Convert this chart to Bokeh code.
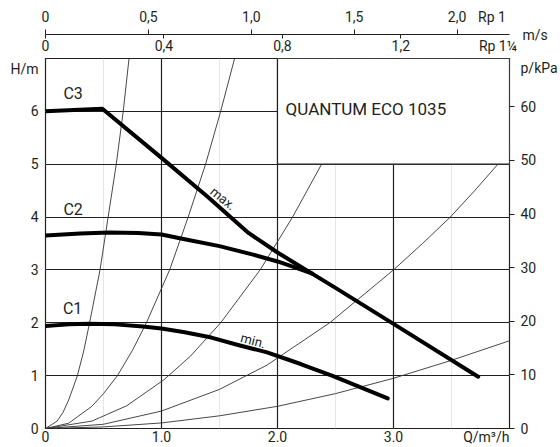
from bokeh.plotting import figure
from bokeh.models import LinearAxis, Range1d, FixedTicker, Label, Grid, Title
from bokeh.embed import file_html
from bokeh.resources import INLINE

# ---------------- data ----------------
flow_ticks = [0, 1, 2, 3]
flow_tick_labels = ["0", "1.0", "2.0", "3.0"]
flow_unit_pos = 3.8
flow_unit = "Q/m³/h"
head_ticks = [0, 1, 2, 3, 4, 5, 6]
head_unit_pos = 6.8
head_unit = "H/m"
kpa_ticks = [0, 10, 20, 30, 40, 50, 60]
kpa_unit_pos = 67.3
kpa_unit = "p/kPa"
rp1_ticks = [0, 0.5, 1.0, 1.5, 2.0]
rp1_tick_labels = ["0", "0,5", "1,0", "1,5", "2,0"]
rp1_name_pos = 2.17
rp1_name = "Rp 1"
rp114_ticks = [0, 0.4, 0.8, 1.2]
rp114_tick_labels = ["0", "0,4", "0,8", "1,2"]
rp114_name_pos = 1.528
rp114_name = "Rp 1¼"
speed_unit = "m/s"

q_span = 4.0        # m3/h
h_span = 7.0        # m
kpa_span = 69.0     # kPa at 7 m
rp1_span = 2.255    # m/s at 4 m3/h in Rp 1
rp114_span = 1.567  # m/s at 4 m3/h in Rp 1 1/4

# pump curves (thick)
c3_q = [0, 0.49, 1.0, 1.4, 1.75, 2.0, 2.5, 3.0, 3.73]
c3_h = [6.0, 6.05, 5.12, 4.38, 3.70, 3.33, 2.66, 1.98, 0.98]
c2_q = [0, 0.3, 0.55, 0.8, 1.0, 1.2, 1.5, 1.79, 2.0, 2.15, 2.3]
c2_h = [3.65, 3.69, 3.71, 3.70, 3.67, 3.58, 3.45, 3.29, 3.16, 3.05, 2.93]
c1_q = [0, 0.2, 0.38, 0.6, 0.84, 1.0, 1.2, 1.43, 1.66, 1.91, 2.2, 2.48, 2.95]
c1_h = [1.94, 1.97, 1.98, 1.97, 1.93, 1.89, 1.82, 1.72, 1.58, 1.44, 1.22, 0.99, 0.57]

# system curves (thin)
s1_q = [0, 0.1, 0.15, 0.2, 0.275, 0.33, 0.38, 0.47, 0.54, 0.61, 0.67, 0.72]
s1_h = [0, 0.14, 0.3, 0.54, 1.0, 1.47, 2.0, 3.0, 4.0, 5.0, 6.0, 7.0]
s2_q = [0, 0.2, 0.4, 0.5, 0.62, 0.75, 0.87, 1.07, 1.23, 1.38, 1.51, 1.63]
s2_h = [0, 0.1, 0.42, 0.66, 1.0, 1.48, 2.0, 3.0, 4.0, 5.0, 6.0, 7.0]
s3_q = [0, 0.4, 0.7, 1.02, 1.25, 1.51, 1.85, 2.13, 2.38, 2.62, 2.82]
s3_h = [0, 0.14, 0.43, 0.92, 1.37, 2.0, 3.0, 4.0, 5.0, 6.0, 7.0]
s4_q = [0, 0.5, 1.0, 1.5, 1.91, 2.45, 3.0, 3.25, 3.49, 3.7, 3.9, 4.0]
s4_h = [0, 0.08, 0.33, 0.74, 1.2, 2.0, 3.0, 3.5, 4.0, 4.5, 5.0, 5.28]
s5_q = [0, 0.5, 1.0, 1.5, 2.0, 2.5, 3.0, 3.5, 4.0]
s5_h = [0, 0.03, 0.105, 0.24, 0.42, 0.66, 0.95, 1.29, 1.66]

title_box_q = [2.0, 4.0]
title_box_h = [5.0, 7.0]

# ---------------- styling ----------------
FONT = "Roboto"
INK = "#231f20"

p = figure(width=560, height=447, output_backend="svg", toolbar_location=None,
           x_range=Range1d(0, q_span), y_range=Range1d(0, h_span),
           x_axis_location=None, y_axis_location=None,
           min_border_left=45, min_border_right=45, min_border_top=58,
           min_border_bottom=0)
p.outline_line_color = INK
p.outline_line_width = 1.2
p.background_fill_color = "white"
p.border_fill_color = "white"
p.extra_x_ranges = {"rp1": Range1d(0, rp1_span), "rp114": Range1d(0, rp114_span)}
p.extra_y_ranges = {"kpa": Range1d(0, kpa_span)}


def style_labels(ax, size="14px"):
    ax.major_label_text_font = FONT
    ax.major_label_text_font_size = size
    ax.major_label_text_color = INK


# grids
p.add_layout(Grid(dimension=0, ticker=FixedTicker(ticks=flow_ticks[1:]),
                  grid_line_color=INK, grid_line_width=1.2))
p.add_layout(Grid(dimension=1, ticker=FixedTicker(ticks=head_ticks[1:]),
                  grid_line_color=INK, grid_line_width=1.2))

# bottom axis
xb = LinearAxis(ticker=FixedTicker(ticks=flow_ticks + [flow_unit_pos]),
                major_label_overrides={**{t: l for t, l in zip(flow_ticks, flow_tick_labels)},
                                       flow_unit_pos: flow_unit},
                axis_line_color=None, major_tick_out=0, major_tick_in=0,
                minor_tick_line_color=None, major_label_standoff=0)
style_labels(xb)
p.add_layout(xb, "below")

# left axis
yl = LinearAxis(ticker=FixedTicker(ticks=head_ticks + [head_unit_pos]),
                major_label_overrides={head_unit_pos: head_unit},
                axis_line_color=None, major_tick_out=0, major_tick_in=0,
                major_tick_line_color=None,
                minor_tick_line_color=None, major_label_standoff=7)
style_labels(yl)
p.add_layout(yl, "left")

# right axis (kPa): labels on major ticks, tick marks drawn as minor ticks
yr = LinearAxis(y_range_name="kpa",
                ticker=FixedTicker(ticks=kpa_ticks + [kpa_unit_pos], minor_ticks=kpa_ticks),
                major_label_overrides={kpa_unit_pos: kpa_unit},
                axis_line_color=None, major_tick_out=0, major_tick_in=0,
                major_tick_line_color=None,
                minor_tick_out=5, minor_tick_in=0,
                minor_tick_line_color=INK, minor_tick_line_width=1,
                major_label_standoff=6)
style_labels(yr)
p.add_layout(yr, "right")

# top, inner scale (Rp 1 1/4): labels, plus short marks hanging from the scale line
top_in = LinearAxis(x_range_name="rp114",
                    ticker=FixedTicker(ticks=rp114_ticks + [rp114_name_pos], minor_ticks=rp114_ticks),
                    major_label_overrides={**{t: l for t, l in zip(rp114_ticks, rp114_tick_labels)},
                                           rp114_name_pos: rp114_name},
                    axis_line_color=None, major_tick_out=0, major_tick_in=0,
                    major_tick_line_color=None,
                    minor_tick_out=24, minor_tick_in=-20,
                    minor_tick_line_color=INK, minor_tick_line_width=1,
                    major_label_standoff=-19)
style_labels(top_in)
p.add_layout(top_in, "above")

# "m/s" beside the end of the scale line
p.add_layout(Title(text=speed_unit, align="left", offset=477, standoff=-18,
                   vertical_align="middle", text_font=FONT, text_font_size="14px",
                   text_font_style="normal", text_color=INK), "above")

# top, outer scale (Rp 1): line, upward marks
top_out = LinearAxis(x_range_name="rp1",
                     ticker=FixedTicker(ticks=rp1_ticks + [rp1_name_pos], minor_ticks=rp1_ticks),
                     major_label_overrides={**{t: l for t, l in zip(rp1_ticks, rp1_tick_labels)},
                                            rp1_name_pos: rp1_name},
                     axis_line_color=INK, axis_line_width=1,
                     major_tick_out=0, major_tick_in=0, major_tick_line_color=None,
                     minor_tick_out=5, minor_tick_in=0,
                     minor_tick_line_color=INK, minor_tick_line_width=1,
                     major_label_standoff=5)
style_labels(top_out)
p.add_layout(top_out, "above")

# system curves
p.multi_line(xs=[s1_q, s2_q, s3_q, s4_q, s5_q], ys=[s1_h, s2_h, s3_h, s4_h, s5_h],
             line_color="#333333", line_width=0.9)

# title box
p.quad(left=[title_box_q[0]], right=[title_box_q[1]], bottom=[title_box_h[0]], top=[title_box_h[1]],
       fill_color="white", line_color=INK, line_width=1.2)

# pump curves
for qs, hs in [(c3_q, c3_h), (c2_q, c2_h), (c1_q, c1_h)]:
    p.line(qs, hs, line_color="black", line_width=4, line_cap="round", line_join="round")


def lab(x, y, text, size="14px", align="left", angle=0.0):
    p.add_layout(Label(x=x, y=y, text=text, text_font=FONT, text_font_size=size,
                       text_color=INK, text_align=align, text_baseline="middle",
                       angle=angle))


lab(0.238, 6.34, "C3", "16px", "center")
lab(0.238, 4.15, "C2", "16px", "center")
lab(0.234, 2.27, "C1", "16px", "center")
lab(2.07, 6.05, "QUANTUM ECO 1035", "17px", "left")
lab(1.53, 4.35, "max.", "13px", "center", angle=-0.68)
lab(1.79, 1.66, "min.", "13px", "center", angle=-0.26)

open("out.html", "w").write(file_html(p, INLINE))
